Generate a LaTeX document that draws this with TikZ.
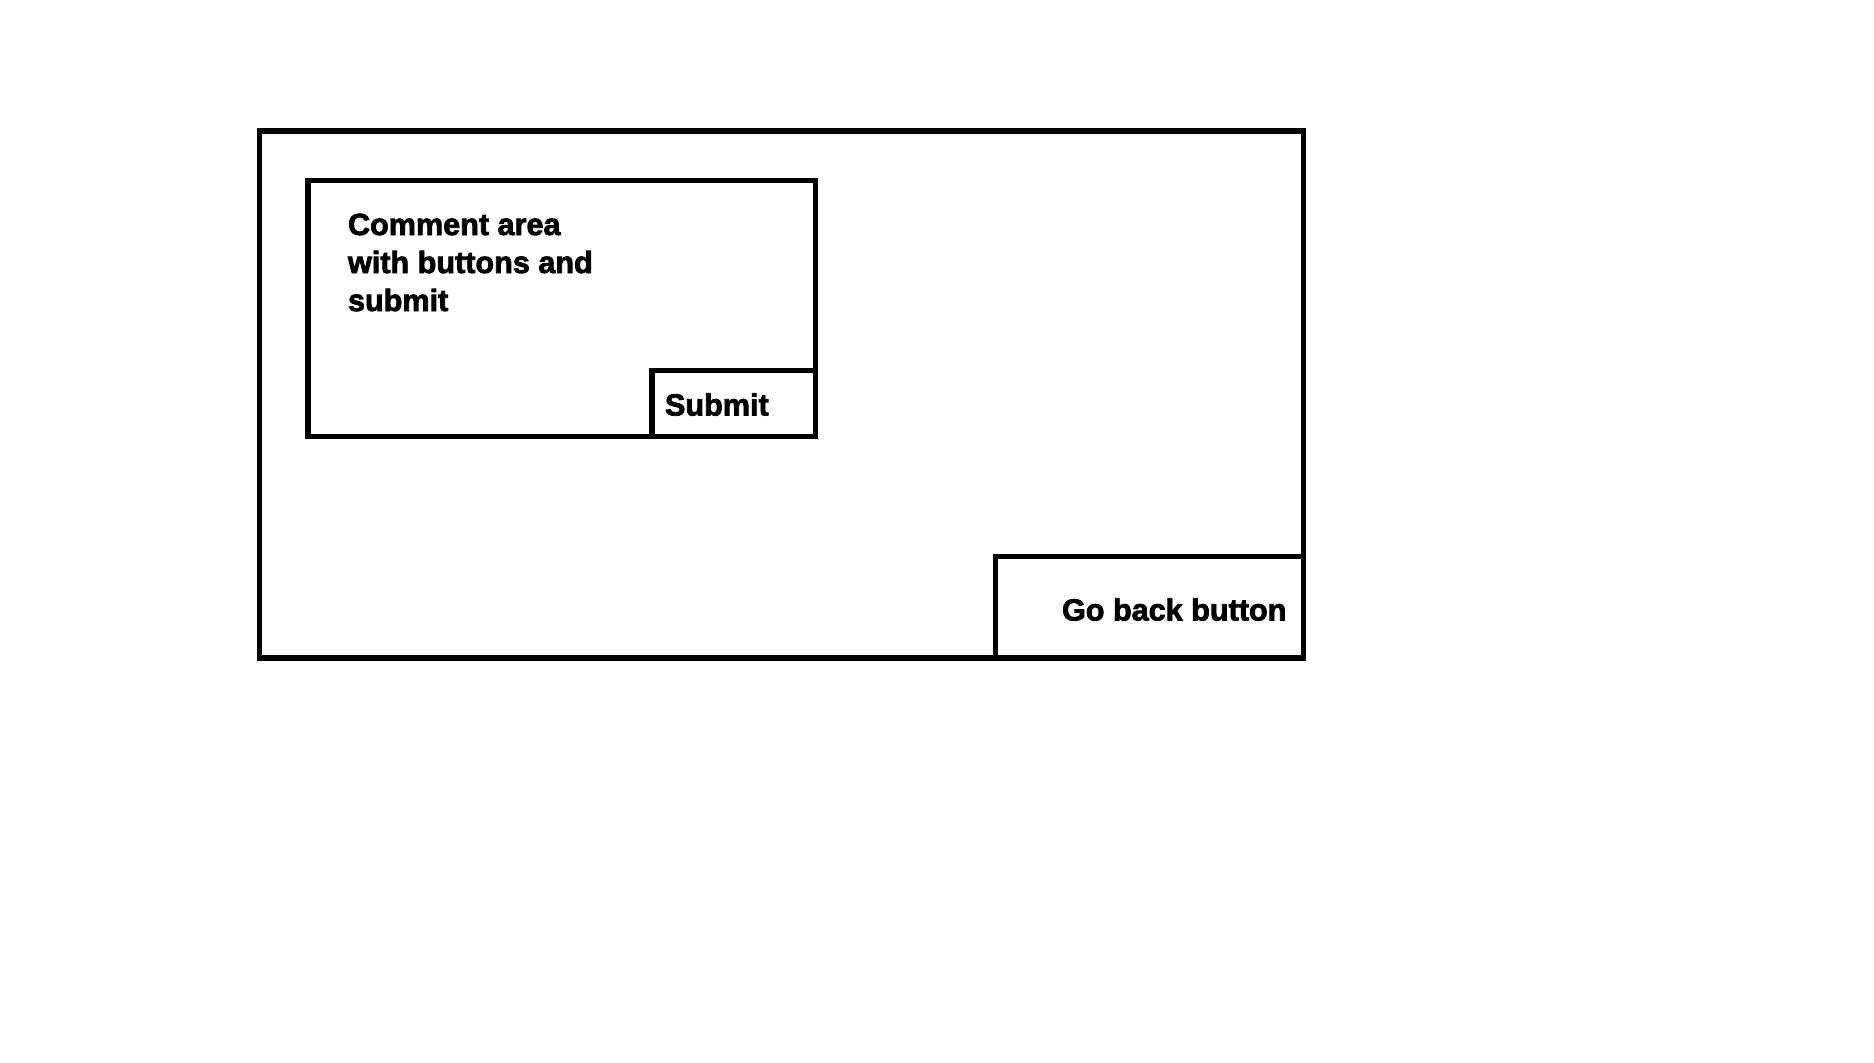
\documentclass[tikz,border=0pt]{standalone}
\usepackage{fontspec}
\setmainfont{Liberation Sans}[BoldFeatures={FakeBold=2.5}]
\begin{document}
\begin{tikzpicture}[x=0.5pt,y=-0.5pt,
  box/.style={draw=black,line width=2.6pt,rectangle,inner sep=0pt,outer sep=0pt,fill=none},
  lbl/.style={inner sep=0pt,outer sep=0pt,anchor=base west,font=\fontsize{15.3}{19}\selectfont\bfseries,align=left}]
\useasboundingbox[fill=white] (0,0) rectangle (1874,1062);
\node[box,minimum width=522pt,minimum height=263.5pt] (outer) at (781.5,394.5) {};
\node[box,minimum width=253.75pt,minimum height=128pt] (comment) at (561.75,308.5) {};
\node[box,fill=white,minimum width=81.75pt,minimum height=33pt] (submit) at (733.75,403.5) {};
\node[box,fill=white,minimum width=154pt,minimum height=50.75pt] (goback) at (1149.5,607.25) {};
\node[lbl] (ctext) at (348,311) {Comment area\\with buttons and\\submit};
\node[lbl] (stext) at (665,415.5) {Submit};
\node[lbl] (gtext) at (1062,620.5) {Go back button};
\end{tikzpicture}
\end{document}
